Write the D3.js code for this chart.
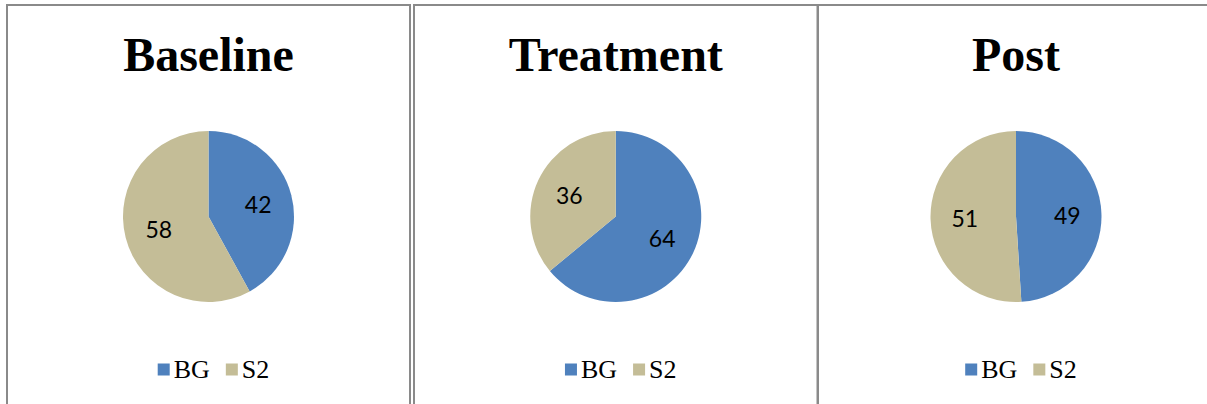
<!DOCTYPE html>
<html>
<head>
<meta charset="utf-8">
<script src="https://cdn.jsdelivr.net/npm/d3@7/dist/d3.min.js"></script>
<style>
  html, body { margin: 0; padding: 0; background: #fff; overflow: hidden; }
  svg { display: block; }
</style>
</head>
<body>
<svg id="chart" width="1207" height="404"></svg>
<script>
// ---- data ----
const panelTitles = ["Baseline", "Treatment", "Post"];
const categories = ["BG", "S2"];
const bgValues = [42, 64, 49];
const s2Values = [58, 36, 51];
const colors = ["#4F81BD", "#C4BD97"];

// ---- layout ----
const W = 1207, H = 404;
const panelLeft = [7, 414, 818];
const panelWidth = [403, 403.5, 396];
const panelTop = 5;
const pieCy = 216.5;
const radius = 85.5;

const svg = d3.select("#chart");

const pie = d3.pie().sort(null).value(d => d.value).startAngle(0).endAngle(2 * Math.PI);
const arc = d3.arc().innerRadius(0).outerRadius(radius);
const labelArc = d3.arc().innerRadius(radius * 0.6).outerRadius(radius * 0.6);

panelTitles.forEach((title, i) => {
  const left = panelLeft[i], w = panelWidth[i];
  const cx = left + w / 2;

  // panel border
  svg.append("rect")
    .attr("x", left).attr("y", panelTop)
    .attr("width", w).attr("height", H + 20)
    .attr("fill", "none")
    .attr("stroke", "#8a8a8a")
    .attr("stroke-width", 2);

  // title
  svg.append("text")
    .attr("x", cx).attr("y", 71)
    .attr("text-anchor", "middle")
    .attr("font-family", "'Liberation Serif', 'Times New Roman', serif")
    .attr("font-weight", "bold")
    .attr("font-size", 48)
    .attr("fill", "#000")
    .text(title);

  const data = categories.map((c, k) => ({ cat: c, value: k === 0 ? bgValues[i] : s2Values[i], color: colors[k] }));
  const g = svg.append("g").attr("transform", `translate(${cx},${pieCy})`);
  const arcs = pie(data);

  g.selectAll("path.slice").data(arcs).enter().append("path")
    .attr("class", "slice")
    .attr("d", arc)
    .attr("fill", d => d.data.color)
    .attr("stroke", "none");

  g.selectAll("text.lbl").data(arcs).enter().append("text")
    .attr("class", "lbl")
    .attr("transform", d => `translate(${labelArc.centroid(d)})`)
    .attr("text-anchor", "middle")
    .attr("dominant-baseline", "central")
    .attr("font-family", "Lato, 'Open Sans', sans-serif")
    .attr("font-size", 23)
    .attr("fill", "#000")
    .text(d => d.data.value);

  // legend
  const lg = svg.append("g");
  const sq = 12, gapSqText = 4, gapItems = 16;
  let x = 0;
  categories.forEach((c, k) => {
    lg.append("rect")
      .attr("x", x).attr("y", 363.5)
      .attr("width", sq).attr("height", sq)
      .attr("fill", colors[k]);
    x += sq + gapSqText;
    const t = lg.append("text")
      .attr("x", x).attr("y", 378)
      .attr("font-family", "'Liberation Serif', 'Times New Roman', serif")
      .attr("font-size", 26)
      .attr("fill", "#000")
      .text(c);
    x += t.node().getComputedTextLength();
    if (k < categories.length - 1) x += gapItems;
  });
  lg.attr("transform", `translate(${cx + 5 - x / 2},0)`);
});
</script>
</body>
</html>
